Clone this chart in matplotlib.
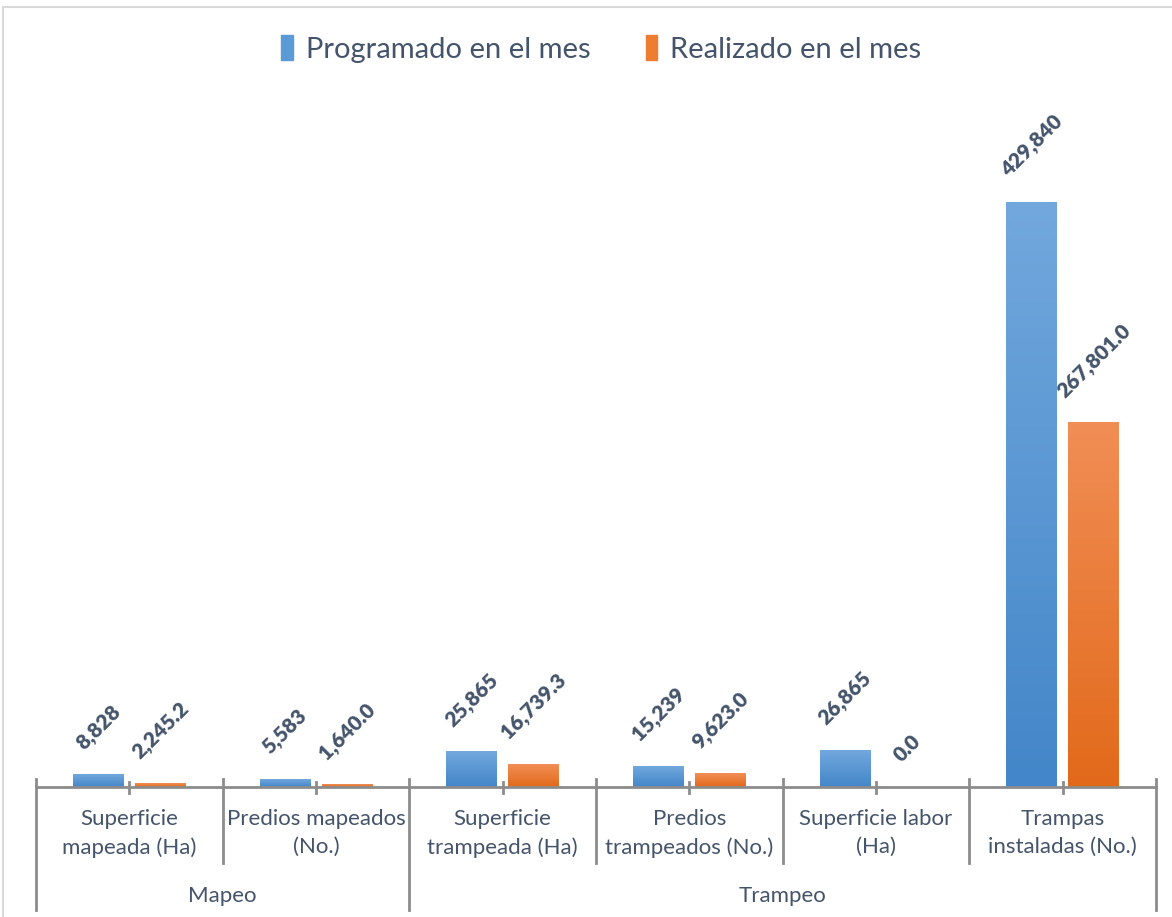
import matplotlib
matplotlib.use('Agg')
import matplotlib.pyplot as plt
import matplotlib.transforms as mtransforms
from matplotlib.colors import LinearSegmentedColormap
from matplotlib.patches import Rectangle
import numpy as np

categorias = ['Superficie\nmapeada (Ha)', 'Predios mapeados\n(No.)',
              'Superficie\ntrampeada (Ha)', 'Predios\ntrampeados (No.)',
              'Superficie labor\n(Ha)', 'Trampas\ninstaladas (No.)']
grupos = ['Mapeo', 'Trampeo']
grupo_tamano = [2, 4]
programado = [8828, 5583, 25865, 15239, 26865, 429840]
realizado = [2245.2, 1640.0, 16739.3, 9623.0, 0.0, 267801.0]
series = ['Programado en el mes', 'Realizado en el mes']

texto = '#44546A'
gris = '#8C8C8C'
plt.rcParams['font.family'] = ['Lato', 'DejaVu Sans']

fig = plt.figure(figsize=(11.72, 9.17), dpi=100)
ax = fig.add_axes([36/1172, 130/917, 1120/1172, 680/917])

azul = LinearSegmentedColormap.from_list('azul', ['#4386C9', '#72A8DD'])
naranja = LinearSegmentedColormap.from_list('naranja', ['#E2691A', '#F18E56'])

x = np.arange(len(categorias))
ancho = 0.273
desp = 0.166
grad = np.linspace(0, 1, 256).reshape(-1, 1)

barras_a = ax.bar(x - desp, programado, ancho, color='#5B9BD5', label=series[0])
barras_n = ax.bar(x + desp, realizado, ancho, color='#ED7D31', label=series[1])
for barras, cmap in [(barras_a, azul), (barras_n, naranja)]:
    for b in barras:
        h = b.get_height()
        if h <= 0:
            continue
        x0 = b.get_x()
        ax.imshow(grad, cmap=cmap, origin='lower', aspect='auto',
                  extent=(x0, x0 + b.get_width(), 0, h), zorder=2)

for i in x:
    ax.annotate(f'{programado[i]:,.0f}', (i - desp, programado[i]),
                xytext=(0, 16), textcoords='offset points', rotation=45,
                ha='center', va='bottom', fontsize=15, fontweight='heavy',
                color=texto)
    ax.annotate(f'{realizado[i]:,.1f}', (i + desp, realizado[i]),
                xytext=(0, 16), textcoords='offset points', rotation=45,
                ha='center', va='bottom', fontsize=15, fontweight='heavy',
                color=texto)

ax.set_xlim(-0.5, len(categorias) - 0.5)
ax.set_ylim(0, 500000)
for s in ax.spines.values():
    s.set_visible(False)
ax.set_xticks([])
ax.set_yticks([])

# eje de categorias en dos niveles
trans = mtransforms.blended_transform_factory(ax.transData, ax.transAxes)
ax.plot([-0.5, len(categorias) - 0.5], [0, 0], color=gris, lw=2,
        transform=trans, clip_on=False, zorder=3)
for i in x:
    ax.plot([i, i], [0.008, -0.009], color=gris, lw=2, transform=trans, clip_on=False)
    ax.text(i, -0.068, categorias[i], transform=trans, ha='center', va='center',
            fontsize=16, color=texto, linespacing=1.5)
bordes = np.cumsum([0] + grupo_tamano) - 0.5
for d in np.arange(-0.5, len(categorias)):
    fondo = -0.181 if d in bordes else -0.112
    ax.plot([d, d], [0.012, fondo], color=gris, lw=2, transform=trans, clip_on=False)
for j, g in enumerate(grupos):
    ax.text((bordes[j] + bordes[j + 1]) / 2, -0.161, g, transform=trans,
            ha='center', va='center', fontsize=16, color=texto)

leg = fig.legend(loc='center', bbox_to_anchor=(0.513, 1 - 49/917), ncol=2,
                 frameon=False, fontsize=21, labelcolor=texto,
                 handlelength=0.4, handleheight=0.9, handletextpad=0.45,
                 columnspacing=1.9)
for h, c in zip(leg.legend_handles, ['#5B9BD5', '#ED7D31']):
    h.set_color(c)

fig.patches.append(Rectangle((3/1172, -0.1), 1.2, 1.1 - 7/917, transform=fig.transFigure,
                             fill=False, edgecolor='#D9D9D9', lw=1.5))

fig.savefig('out.png', dpi=100)
